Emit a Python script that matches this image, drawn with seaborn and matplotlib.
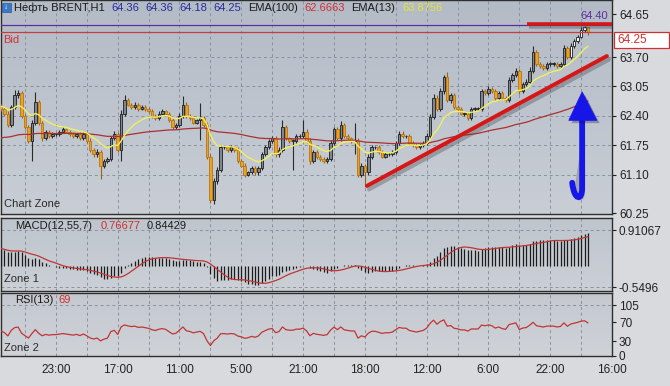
import numpy as np
import pandas as pd
import matplotlib
matplotlib.use("Agg")
import matplotlib.pyplot as plt
import seaborn as sns
import matplotlib.patheffects as pe
from matplotlib.path import Path
from matplotlib.patches import PathPatch, Polygon, Rectangle
from matplotlib.colors import LinearSegmentedColormap

sns.set_theme(style="white")
plt.rcParams["font.family"] = ["Liberation Sans", "DejaVu Sans"]

# ---------------- data ----------------
first_open = 62.62
closes = [
    62.55, 62.45, 62.20, 62.60, 62.85, 62.90, 62.40, 62.15, 61.85, 62.25,
    62.70, 62.25, 61.90, 62.05, 61.95, 62.00, 62.00, 62.05, 62.10, 62.05,
    62.00, 61.95, 62.00, 61.90, 62.00, 61.85, 61.65, 61.55, 61.60, 61.30,
    61.40, 61.45, 61.90, 62.00, 61.65, 62.45, 62.75, 62.65, 62.60, 62.65,
    62.55, 62.60, 62.55, 62.50, 62.40, 62.35, 62.45, 62.50, 62.45, 62.30,
    62.15, 62.20, 62.40, 62.65, 62.40, 62.35, 62.25, 62.30, 62.35, 62.20,
    61.50, 60.55, 60.95, 61.20, 61.70, 61.70, 61.65, 61.70, 61.65, 61.40,
    61.30, 61.10, 61.15, 61.25, 61.15, 61.25, 61.55, 61.70, 61.85, 61.90,
    61.55, 61.65, 62.15, 61.90, 61.85, 61.85, 61.95, 61.95, 62.05, 61.85,
    61.40, 61.60, 61.50, 61.45, 61.40, 61.45, 61.80, 62.10, 61.90, 62.20,
    61.95, 61.90, 61.85, 61.85, 61.10, 61.30, 61.15, 61.50, 61.70, 61.70,
    61.60, 61.50, 61.55, 61.55, 61.60, 61.80, 62.00, 61.95, 61.95, 61.80,
    61.75, 61.70, 61.75, 61.80, 61.95, 62.38, 62.80, 62.55, 62.95, 63.25,
    62.75, 62.85, 62.60, 62.55, 62.45, 62.45, 62.35, 62.55, 62.55, 62.55,
    62.95, 62.90, 63.00, 62.95, 62.80, 62.90, 62.80, 62.75, 63.20, 63.30,
    63.40, 62.95, 63.10, 63.15, 63.40, 63.80, 63.55, 63.50, 63.45, 63.55,
    63.55, 63.55, 63.50, 63.55, 63.90, 63.70, 63.95, 64.05, 64.15, 64.30,
    64.36, 64.25,
]
wick_up = [
    .05, .04, .06, .05, .12, .08, .05, .04, .05, .06,
    .22, .05, .04, .04, .03, .04, .03, .04, .05, .03,
    .03, .04, .03, .04, .05, .04, .05, .04, .06, .05,
    .04, .05, .05, .06, .04, .08, .12, .05, .04, .06,
    .04, .03, .04, .04, .05, .04, .05, .04, .03, .04,
    .05, .04, .06, .18, .05, .04, .04, .03, .33, .04,
    .06, .05, .08, .06, .05, .04, .04, .05, .04, .05,
    .04, .05, .04, .05, .04, .05, .06, .05, .04, .05,
    .06, .05, .15, .05, .04, .04, .05, .04, .25, .06,
    .06, .05, .04, .04, .04, .04, .06, .05, .05, .08,
    .05, .04, .04, .40, .06, .05, .04, .05, .05, .04,
    .05, .04, .04, .04, .04, .05, .06, .06, .03, .04,
    .04, .04, .04, .05, .06, .06, .08, .05, .06, .06,
    .12, .06, .05, .04, .04, .04, .04, .05, .04, .04,
    .05, .05, .05, .04, .05, .04, .04, .04, .06, .05,
    .05, .04, .05, .06, .08, .15, .06, .04, .04, .04,
    .04, .04, .04, .05, .06, .04, .05, .05, .04, .06,
    .02, .00,
]
wick_dn = [
    .05, .06, .05, .04, .06, .05, .05, .05, .06, .45,
    .05, .05, .05, .04, .04, .03, .04, .04, .03, .04,
    .04, .03, .04, .04, .04, .05, .05, .05, .06, .30,
    .05, .05, .05, .04, .05, .25, .05, .04, .04, .04,
    .04, .03, .04, .04, .05, .04, .04, .04, .03, .04,
    .05, .04, .05, .04, .05, .04, .04, .04, .44, .05,
    .06, .08, .10, .06, .05, .04, .04, .04, .04, .05,
    .04, .05, .04, .04, .05, .06, .05, .04, .04, .04,
    .05, .05, .05, .04, .04, .65, .04, .04, .05, .05,
    .06, .05, .05, .04, .05, .04, .05, .05, .04, .05,
    .05, .04, .04, .30, .05, .06, .30, .05, .05, .04,
    .05, .04, .04, .04, .04, .05, .04, .04, .03, .05,
    .04, .04, .04, .04, .05, .06, .05, .05, .05, .06,
    .05, .06, .05, .04, .04, .05, .05, .05, .04, .04,
    .05, .05, .04, .04, .05, .05, .04, .04, .05, .05,
    .05, .06, .05, .05, .05, .05, .05, .04, .04, .04,
    .04, .04, .04, .05, .05, .04, .05, .04, .04, .04,
    .04, .07,
]
ema13_seed, ema100_seed = 62.62, 61.90
ema12_seed, ema55_seed = 62.62, 62.15
rsi_gain_seed, rsi_loss_seed = 0.07, 0.06
white_from_bar = 166  # last up-candles are drawn hollow (white)

time_labels = ["23:00", "17:00", "11:00", "5:00", "21:00", "18:00",
               "12:00", "6:00", "22:00", "16:00"]
label_bars = [16, 34, 52, 70, 88, 106, 124, 142, 160, 178]
price_ticks = [64.65, 63.70, 63.05, 62.40, 61.75, 61.10, 60.25]
price_grid = [63.70, 63.05, 62.40, 61.75, 61.10]
macd_ticks = [0.91067, -0.5496]
rsi_ticks = [105, 70, 30, 0]
bid_price, ask_price, resist_price = 64.25, 64.41, 64.43
trend_bars, trend_prices = [106.6, 176.5], [60.85, 63.72]

# ---------------- derived series ----------------
c = np.array(closes)
o = np.array([first_open] + closes[:-1])
hi = np.maximum(o, c) + np.array(wick_up)
lo = np.minimum(o, c) - np.array(wick_dn)
xs = np.arange(len(c))


def ema(vals, span, seed):
    s = pd.Series([seed] + list(vals)).ewm(span=span, adjust=False).mean()
    return s.values[1:]


ema13 = ema(c, 13, ema13_seed)
ema100 = ema(c, 100, ema100_seed)
macd = ema(c, 12, ema12_seed) - ema(c, 55, ema55_seed)
signal = pd.Series(macd).rolling(7, min_periods=1).mean().values

rsi = []
ag, al, prev = rsi_gain_seed, rsi_loss_seed, first_open
for v in c:
    d = v - prev
    prev = v
    ag = (ag * 12 + max(d, 0)) / 13
    al = (al * 12 + max(-d, 0)) / 13
    rsi.append(100 * ag / (ag + al))
rsi = np.array(rsi)

# ---------------- figure ----------------
W, H = 670, 386
fig = plt.figure(figsize=(6.7, 3.86), dpi=100, facecolor="#d8dadd")


def rect(x0, y0, x1, y1):
    return [x0 / W, 1 - y1 / H, (x1 - x0) / W, (y1 - y0) / H]


def ftext(x, y, s, **kw):
    kw.setdefault("fontsize", 8)
    fig.text(x / W, 1 - y / H, s, va="center", **kw)


def gradient(a, top, bottom):
    cm = LinearSegmentedColormap.from_list("g", [bottom, top])
    a.imshow(np.linspace(0, 1, 64).reshape(-1, 1), cmap=cm, extent=[0, 1, 0, 1],
             transform=a.transAxes, aspect="auto", zorder=-5, origin="lower")


ax = fig.add_axes(rect(1, 0, 612, 214))
axm = fig.add_axes(rect(1, 218, 612, 291))
axr = fig.add_axes(rect(1, 293, 612, 356))

gradient(ax, "#b3bbc6", "#c9ced5")
gradient(axm, "#bfc5cd", "#cbd0d6")
gradient(axr, "#c4c9d0", "#cfd3d8")

grid_kw = dict(color="#8891a0", lw=0.7, ls=(0, (3, 3)), zorder=1)
for a in (ax, axm, axr):
    for gx in range(7, 178, 9):
        a.axvline(gx, **grid_kw)
    for sp in a.spines.values():
        sp.set_color("#2e2e2e")
        sp.set_linewidth(1.0)
        sp.set_visible(True)
    a.set_xlim(0, 178)
    a.tick_params(axis="y", which="both", left=False, right=True, labelleft=False,
                  labelright=True, length=3, width=0.8, pad=2, labelsize=8.5,
                  colors="#222222", direction="out")
    a.tick_params(axis="x", bottom=False, labelbottom=False)

# main price panel
for g in price_grid:
    ax.axhline(g, **grid_kw)
upm = c >= o
ax.vlines(xs[upm], lo[upm], hi[upm], color="#2a2a2a", lw=0.8, zorder=3)
ax.vlines(xs[~upm], lo[~upm], hi[~upm], color="#9a6418", lw=0.8, zorder=3)
bh = np.maximum(np.abs(c - o), 0.012)
bb = np.minimum(o, c)
up_fill = np.where(xs >= white_from_bar, "#f4f4f4", "#7e868f")
ax.bar(xs[upm], bh[upm], bottom=bb[upm], width=0.72, color=up_fill[upm],
       edgecolor="#1e1e1e", linewidth=0.6, zorder=4)
ax.bar(xs[~upm], bh[~upm], bottom=bb[~upm], width=0.72, color="#eba224",
       edgecolor="#b87414", linewidth=0.6, zorder=4)

sns.lineplot(x=xs, y=ema100, ax=ax, color="#ab3030", lw=0.9, zorder=5)
sns.lineplot(x=xs, y=ema13, ax=ax, color="#f0f060", lw=1.0, zorder=5)

ax.axhline(ask_price, color="#5a2ea0", lw=0.9, zorder=5)
ax.axhline(bid_price, color="#c83c3c", lw=0.9, zorder=5)

shadow = [pe.SimpleLineShadow(offset=(1.5, -2.5), shadow_color="#404850", alpha=0.35), pe.Normal()]
ax.plot([153.3, 178], [resist_price, resist_price], color="#d41818", lw=2.6,
        solid_capstyle="butt", zorder=6, path_effects=shadow)
ax.plot(trend_bars, trend_prices, color="#d41818", lw=2.9, solid_capstyle="round",
        zorder=6, path_effects=shadow)

# blue arrow
arrow_col = "#1616e8"
shaft = Path([(169.3, 62.35), (169.3, 60.80), (169.3, 60.52), (167.0, 60.52), (166.4, 60.92)],
             [Path.MOVETO, Path.LINETO, Path.CURVE4, Path.CURVE4, Path.CURVE4])
ax.add_patch(PathPatch(shaft, fill=False, edgecolor=arrow_col, lw=4.2, capstyle="round",
                       zorder=7, path_effects=[pe.SimplePatchShadow(offset=(2, -2), alpha=0.3), pe.Normal()]))
ax.add_patch(Polygon([(165.4, 62.30), (173.6, 62.30), (169.3, 62.93)], closed=True,
                     facecolor=arrow_col, edgecolor=arrow_col, lw=0.5, zorder=7,
                     path_effects=[pe.SimplePatchShadow(offset=(2, -2), alpha=0.3), pe.Normal()]))

ax.set_ylim(60.23, 64.96)
ax.set_yticks(price_ticks)
ax.set_yticklabels([f"{v:.2f}" for v in price_ticks])
ax.text(176.8, 64.60, "64.40", color="#5a2ea0", fontsize=8, ha="right", va="center", zorder=8)
ax.text(1.0, 60.45, "Chart Zone", color="#2a2a2a", fontsize=8, ha="left", va="center", zorder=8)

# MACD panel
for g in macd_ticks:
    axm.axhline(g, **grid_kw)
axm.vlines(xs, 0, macd, color="#1c1c1c", lw=0.9, zorder=3)
sns.lineplot(x=xs, y=signal, ax=axm, color="#c23434", lw=0.9, zorder=4)
axm.set_ylim(-0.64, 1.23)
axm.set_yticks(macd_ticks)
axm.set_yticklabels(["0.91067", "-0.5496"])
axm.set_ylabel("")
axm.text(1.0, -0.34, "Zone 1", color="#2a2a2a", fontsize=8, ha="left", va="center")

# RSI panel
axr.axhline(105, **grid_kw)
sns.lineplot(x=xs, y=rsi, ax=axr, color="#c23434", lw=0.9, zorder=4)
axr.set_ylim(0, 130)
axr.set_yticks(rsi_ticks)
axr.set_yticklabels([str(v) for v in rsi_ticks])
axr.set_ylabel("")
axr.text(1.0, 16, "Zone 2", color="#2a2a2a", fontsize=8, ha="left", va="center")
axr.set_xticks(label_bars)
axr.set_xticklabels(time_labels)
axr.tick_params(axis="x", bottom=True, labelbottom=True, length=0, pad=6,
                labelsize=8.5, colors="#222222")
for a in (ax, axm):
    a.set_ylabel("")

# header texts
fig.add_artist(Rectangle((2 / W, 1 - 12 / H), 9 / W, 9 / H, transform=fig.transFigure,
                         facecolor="#3a78c8", edgecolor="#2a5a9a", lw=0.5))
ftext(6.5, 7.5, "↓", color="white", fontsize=6, ha="center", fontweight="bold")
ftext(14, 8, "Нефть BRENT,H1", color="#1a1a1a")
for xv, s in zip([111, 145, 179, 213], ["64.36", "64.36", "64.18", "64.25"]):
    ftext(xv, 8, s, color="#2b2b9b")
ftext(248, 8, "EMA(100)", color="#1a1a1a")
ftext(304, 8, "62.6663", color="#d03030")
ftext(351, 8, "EMA(13)", color="#1a1a1a")
ftext(402, 8, "63.8756", color="#e6e63a")
ftext(3, 40, "Bid", color="#d03030")
ftext(15, 226, "MACD(12,55,7)", color="#1a1a1a")
ftext(101, 226, "0.76677", color="#d03030")
ftext(147, 226, "0.84429", color="#1a1a1a")
ftext(15, 300, "RSI(13)", color="#1a1a1a")
ftext(58, 300, "69", color="#d03030")

# bid price box on the right scale
fig.add_artist(Rectangle((614 / W, 1 - 48 / H), 55 / W, 16 / H, transform=fig.transFigure,
                         facecolor="white", edgecolor="#d03030", lw=0.9))
ftext(617, 40, "64.25", color="#d03030", fontsize=8.5)

fig.savefig("out.png", dpi=100, facecolor=fig.get_facecolor())
